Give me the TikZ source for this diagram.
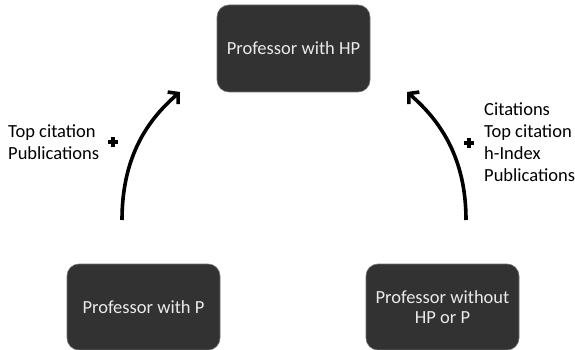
\documentclass[tikz,border=0pt]{standalone}
\usepackage{fontspec}
\setmainfont{Carlito}
\usetikzlibrary{arrows.meta}
\definecolor{boxfill}{HTML}{323232}
\definecolor{boxtext}{HTML}{EAEAEA}
\tikzset{
  profbox/.style={draw=boxfill!70!white, line width=0.6pt, fill=boxfill, rounded corners=12pt,
    text=boxtext, align=center, font=\fontsize{18.5}{20}\selectfont, inner sep=0pt},
  lbl/.style={align=left, font=\fontsize{18.5}{22}\selectfont, inner sep=0pt, anchor=west},
  plusstroke/.style={line width=3.2pt},
  curvearrow/.style={line width=3.6pt, -{Straight Barb[length=7pt,width=16pt]}}
}
\begin{document}
\begin{tikzpicture}[x=1pt,y=-1pt]
\useasboundingbox (0,0) rectangle (575,350);
\node[profbox, minimum width=153pt, minimum height=87pt] (hp) at (293.5,48.5) {Professor with HP};
\node[profbox, minimum width=153pt, minimum height=86pt] (p) at (143.5,307) {Professor with P};
\node[profbox, minimum width=153pt, minimum height=86pt] (none) at (442.5,307) {Professor without\\HP or P};
\coordinate (ls) at (122,220);
\coordinate (le) at (180,92);
\coordinate (rs) at (466,220);
\coordinate (re) at (407,92);
\draw[curvearrow] (ls) .. controls (122,160) and (145,122) .. (le);
\draw[curvearrow] (rs) .. controls (466,160) and (442,122) .. (re);
\node[lbl] (ltext) at (8,142.5) {Top citation\\Publications};
\node[lbl] (rtext) at (484,142) {Citations\\Top citation\\h-Index\\Publications};
\coordinate (lplus) at (113,142);
\coordinate (rplus) at (469,143);
\draw[plusstroke] ([xshift=-5pt]lplus) -- ([xshift=5pt]lplus) ([yshift=-5pt]lplus) -- ([yshift=5pt]lplus);
\draw[plusstroke] ([xshift=-5pt]rplus) -- ([xshift=5pt]rplus) ([yshift=-5pt]rplus) -- ([yshift=5pt]rplus);
\end{tikzpicture}
\end{document}
